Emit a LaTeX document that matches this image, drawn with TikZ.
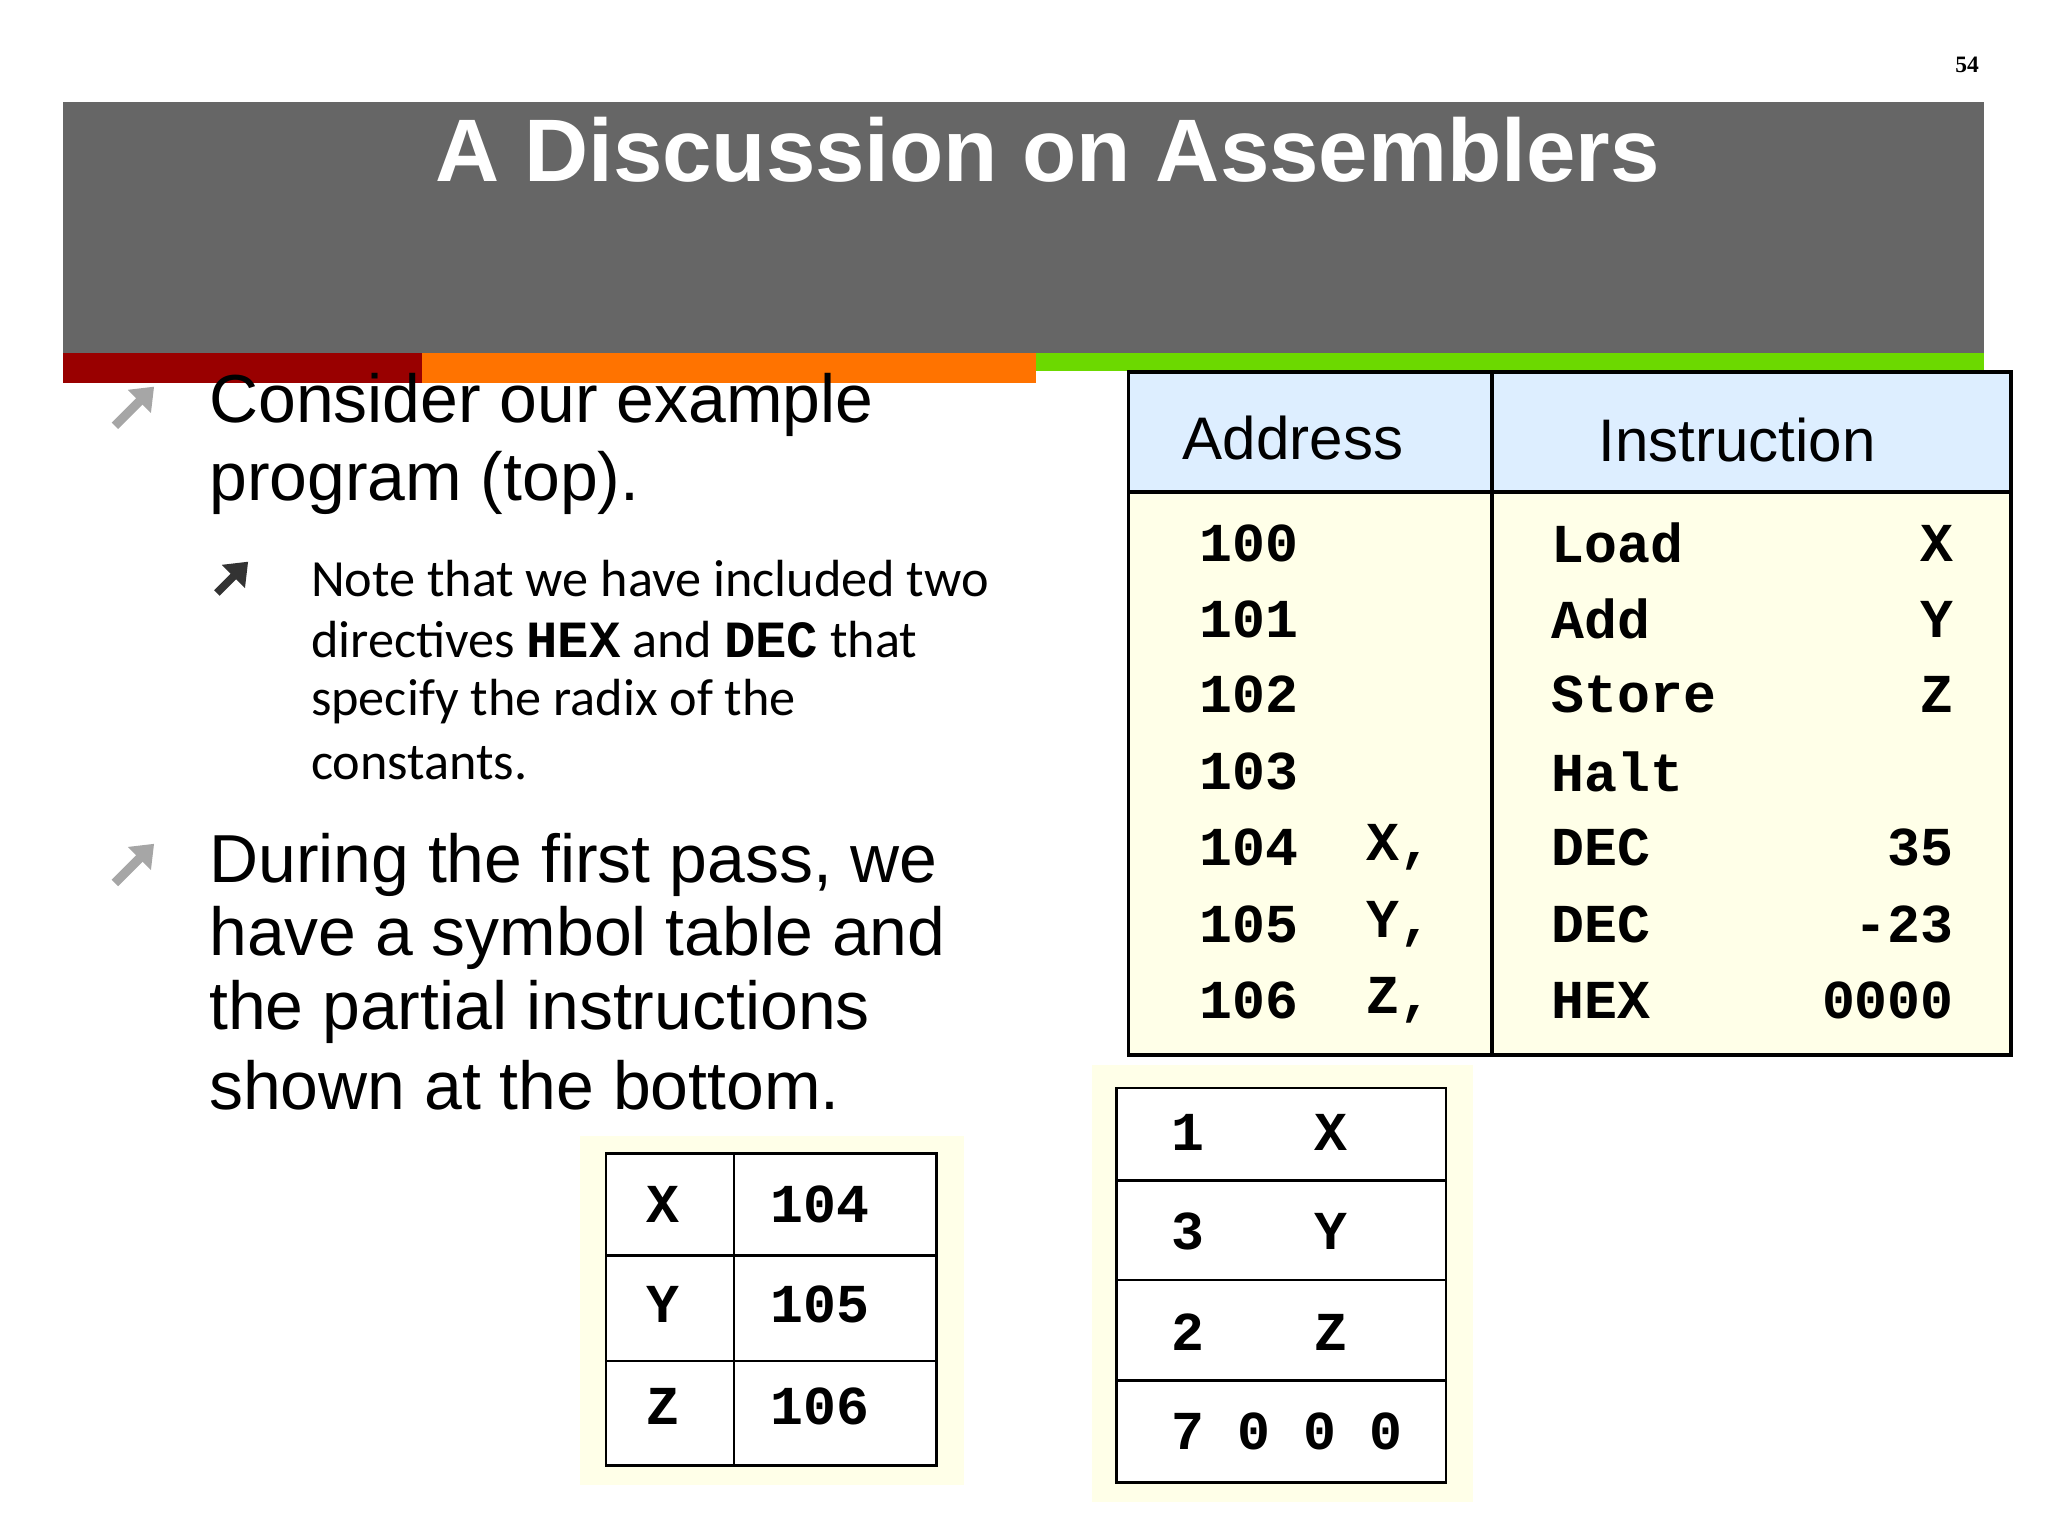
\documentclass[tikz,border=0pt]{standalone}
\usepackage{fontspec}
\usetikzlibrary{arrows.meta}
\setmainfont{Liberation Sans}
\newfontfamily\calfnt{Carlito}
\newfontfamily\monofnt{Liberation Mono}
\newfontfamily\serfnt{Liberation Serif}
\definecolor{bar}{HTML}{666666}
\definecolor{cream}{HTML}{FFFFE8}
\definecolor{hdr}{HTML}{DDEEFF}
\begin{document}
\begin{tikzpicture}[x=1pt,y=-1pt,
 big/.style={anchor=west,font=\fontsize{52}{56}\selectfont,inner sep=0},
 small/.style={anchor=west,font=\calfnt\fontsize{40}{47}\selectfont,inner sep=0},
 mt/.style={anchor=west,font=\monofnt\bfseries\fontsize{42}{42}\selectfont,inner sep=0},
 arr/.style={line width=7pt,-{Triangle[length=16pt,width=24pt]}},
 tline/.style={line width=2pt}]
\useasboundingbox (0,0) rectangle (1568,1176);
\node[font=\serfnt\bfseries\fontsize{18}{18}\selectfont] (pg) at (1506,50) {54};
\fill[bar] (48,78) rectangle (1519,270);
\node[text=white,font=\bfseries\fontsize{68}{68}\selectfont] (title) at (802,115) {A Discussion on Assemblers};
\fill[red!60!black] (48,270) rectangle (323,293);
\fill[orange!90!red] (323,270) rectangle (793,293);
\fill[green!50!yellow!85!black] (793,270) rectangle (1519,284);
% bullets
\coordinate (a1s) at (88,326); \coordinate (a1e) at (118,296);
\draw[arr,gray!70] (a1s) -- (a1e);
\node[big] (t1) at (160,310) {Consider our example};
\node[big] (t2) at (160,370) {program (top).};
\coordinate (a2s) at (166,454); \coordinate (a2e) at (190,430);
\draw[arr,black!80,line width=6pt] (a2s) -- (a2e);
\node[small] (s1) at (238,443) {Note that we have included two};
\node[small] (s2) at (238,490) {directives {\monofnt\bfseries HEX} and {\monofnt\bfseries DEC} that};
\node[small] (s3) at (238,537) {specify the radix of the};
\node[small] (s4) at (238,584) {constants.};
\coordinate (a3s) at (88,676); \coordinate (a3e) at (118,646);
\draw[arr,gray!70] (a3s) -- (a3e);
\node[big] (u1) at (160,662) {During the first pass, we};
\node[big] (u2) at (160,718) {have a symbol table and};
\node[big] (u3) at (160,775) {the partial instructions};
\node[big] (u4) at (160,831) {shown at the bottom.};
% big table
\fill[cream] (864,377) rectangle (1540,808);
\fill[hdr] (864,285) rectangle (1540,377);
\draw[line width=3pt] (864,285) rectangle (1540,808);
\draw[line width=3pt] (864,377) -- (1540,377);
\draw[line width=3pt] (1142,285) -- (1142,808);
\node[font=\fontsize{46}{46}\selectfont] (ha) at (990,335) {Address};
\node[font=\fontsize{46}{46}\selectfont] (hi) at (1330,337) {Instruction};
\foreach \y/\a/\l/\op/\v in {416/100/{}/Load/X,474/101/{}/Add/Y,532/102/{}/Store/Z,591/103/{}/Halt/{},649/104/{X,}/DEC/35,708/105/{Y,}/DEC/-23,766/106/{Z,}/HEX/0000}{
 \node[mt] at (918,\y) {\a};
 \node[mt] at (1046,\y) {\l};
 \node[mt] at (1188,\y) {\op};
 \node[mt,anchor=east] at (1496,\y) {\v};
}
% symbol table
\fill[cream] (444,870) rectangle (738,1137);
\fill[white] (464,883) rectangle (717,1122);
\draw[tline] (464,883) rectangle (717,1122);
\draw[tline] (464,961) -- (717,961);
\draw[tline] (464,1042) -- (717,1042);
\draw[tline] (562,883) -- (562,1122);
\foreach \y/\s/\a in {922/X/104,999/Y/105,1077/Z/106}{
 \node[mt] at (495,\y) {\s};
 \node[mt] at (590,\y) {\a};
}
% partial table
\fill[cream] (836,815) rectangle (1128,1150);
\fill[white] (855,833) rectangle (1107,1135);
\draw[tline] (855,833) rectangle (1107,1135);
\draw[tline] (855,904) -- (1107,904);
\draw[tline] (855,980) -- (1107,980);
\draw[tline] (855,1057) -- (1107,1057);
\foreach \y/\n/\s in {867/1/X,943/3/Y,1020/2/Z}{
 \node[mt] at (897,\y) {\n};
 \node[mt] at (1006,\y) {\s};
}
\node[mt] (p4) at (897,1096) {7 0 0 0};
\end{tikzpicture}
\end{document}
